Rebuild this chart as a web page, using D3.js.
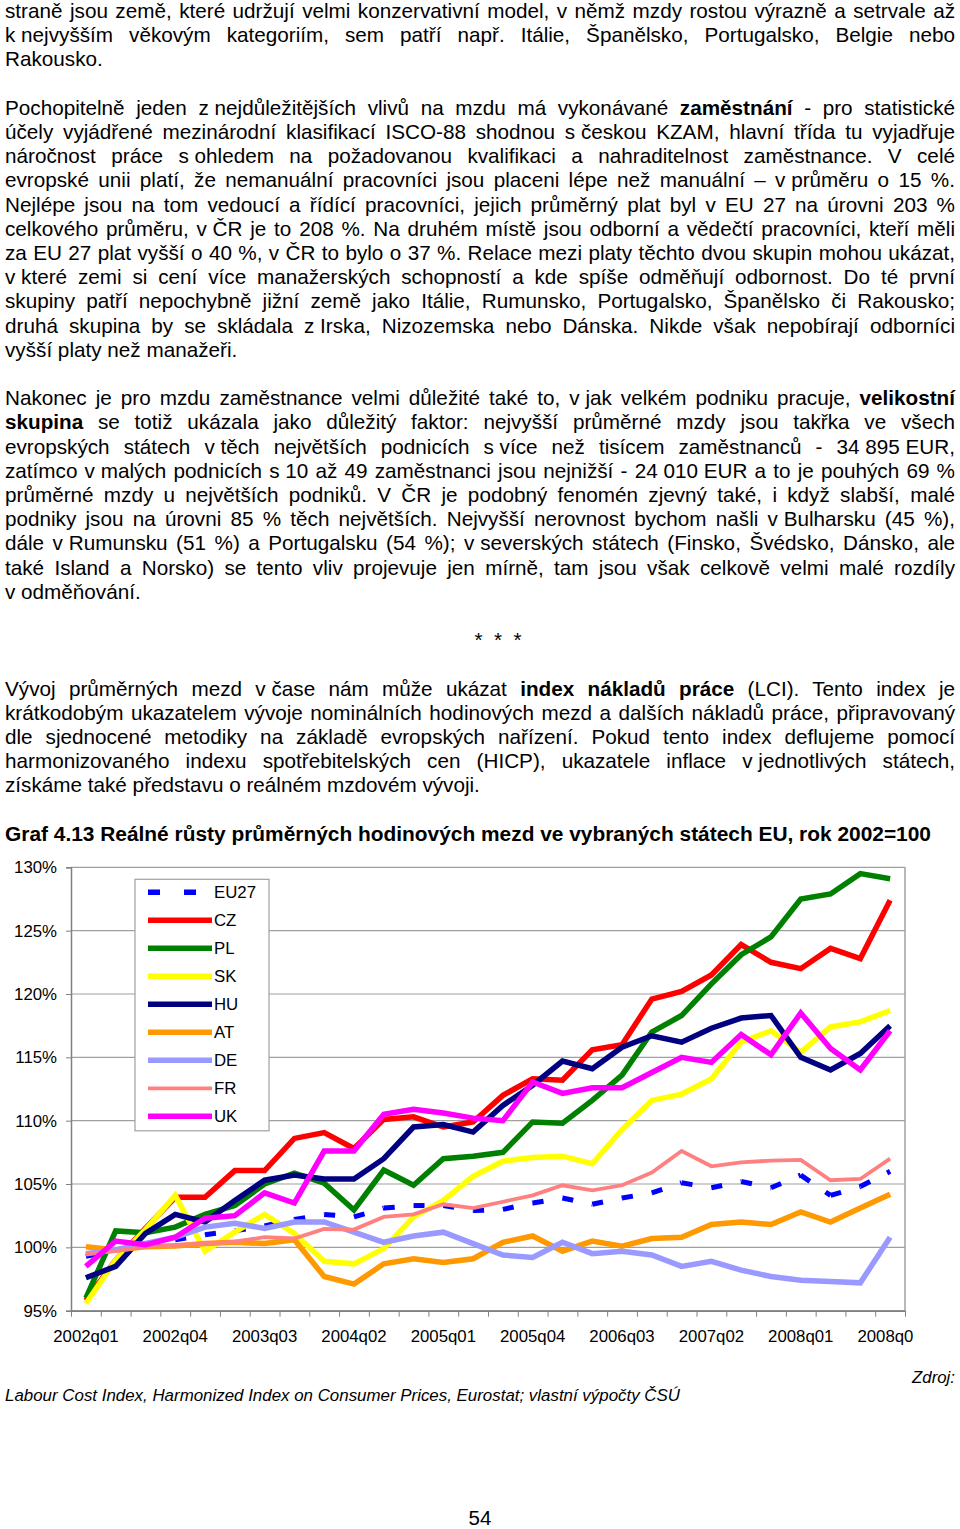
<!DOCTYPE html>
<html>
<head>
<meta charset="utf-8">
<script src="https://cdn.jsdelivr.net/npm/d3@7"></script>
<style>
	body { margin: 0; background: #fff; width: 960px; height: 1529px; position: relative; overflow: hidden;
		font-family: "Liberation Sans", Arial, sans-serif; color: #000; }
	.ln { position: absolute; left: 5px; white-space: pre; font-size: 20.7px; line-height: 24.2px; }
	svg { position: absolute; left: 0; top: 0; }
</style>
</head>
<body>
<script>

// text of the page, one entry per printed line ("**" toggles bold, "~" is a fixed space)
const PARA_1 = [
	'straně jsou země, které udržují velmi konzervativní model, v němž mzdy rostou výrazně a setrvale až',
	'k~nejvyšším věkovým kategoriím, sem patří např. Itálie, Španělsko, Portugalsko, Belgie nebo',
	'Rakousko.'
];
const PARA_2 = [
	'Pochopitelně jeden z~nejdůležitějších vlivů na mzdu má vykonávané **zaměstnání** - pro statistické',
	'účely vyjádřené mezinárodní klasifikací ISCO-88 shodnou s~českou KZAM, hlavní třída tu vyjadřuje',
	'náročnost práce s~ohledem na požadovanou kvalifikaci a nahraditelnost zaměstnance. V celé',
	'evropské unii platí, že nemanuální pracovníci jsou placeni lépe než manuální – v~průměru o 15 %.',
	'Nejlépe jsou na tom vedoucí a řídící pracovníci, jejich průměrný plat byl v EU 27 na úrovni 203 %',
	'celkového průměru, v~ČR je to 208 %. Na druhém místě jsou odborní a vědečtí pracovníci, kteří měli',
	'za EU 27 plat vyšší o 40 %, v ČR to bylo o 37 %. Relace mezi platy těchto dvou skupin mohou ukázat,',
	'v~které zemi si cení více manažerských schopností a kde spíše odměňují odbornost. Do té první',
	'skupiny patří nepochybně jižní země jako Itálie, Rumunsko, Portugalsko, Španělsko či Rakousko;',
	'druhá skupina by se skládala z~Irska, Nizozemska nebo Dánska. Nikde však nepobírají odborníci',
	'vyšší platy než manažeři.'
];
const PARA_3 = [
	'Nakonec je pro mzdu zaměstnance velmi důležité také to, v~jak velkém podniku pracuje, **velikostní**',
	'**skupina** se totiž ukázala jako důležitý faktor: nejvyšší průměrné mzdy jsou takřka ve všech',
	'evropských státech v~těch největších podnicích s~více než tisícem zaměstnanců - 34~895~EUR,',
	'zatímco v~malých podnicích s~10 až 49 zaměstnanci jsou nejnižší - 24~010~EUR a to je pouhých 69 %',
	'průměrné mzdy u největších podniků. V ČR je podobný fenomén zjevný také, i když slabší, malé',
	'podniky jsou na úrovni 85 % těch největších. Nejvyšší nerovnost bychom našli v~Bulharsku (45 %),',
	'dále v~Rumunsku (51 %) a Portugalsku (54 %); v~severských státech (Finsko, Švédsko, Dánsko, ale',
	'také Island a Norsko) se tento vliv projevuje jen mírně, tam jsou však celkově velmi malé rozdíly',
	'v~odměňování.'
];
const PARA_4 = [
	'Vývoj průměrných mezd v~čase nám může ukázat **index nákladů práce** (LCI). Tento index je',
	'krátkodobým ukazatelem vývoje nominálních hodinových mezd a dalších nákladů práce, připravovaný',
	'dle sjednocené metodiky na základě evropských nařízení. Pokud tento index deflujeme pomocí',
	'harmonizovaného indexu spotřebitelských cen (HICP), ukazatele inflace v~jednotlivých státech,',
	'získáme také představu o reálném mzdovém vývoji.'
];
const PARAGRAPHS = [[0, PARA_1], [4, PARA_2], [16, PARA_3], [28, PARA_4]];

const CHART_TITLE = 'Graf 4.13 Reálné růsty průměrných hodinových mezd ve vybraných státech EU, rok 2002=100';
const SOURCE_LABEL = 'Zdroj:';
const SOURCE_TEXT = 'Labour Cost Index, Harmonized Index on Consumer Prices, Eurostat; vlastní výpočty ČSÚ';
const PAGE_NUMBER = '54';

// chart data
const QUARTERS = [
	'2002q01', '2002q02', '2002q03', '2002q04', '2003q01', '2003q02', '2003q03', '2003q04',
	'2004q01', '2004q02', '2004q03', '2004q04', '2005q01', '2005q02', '2005q03', '2005q04',
	'2006q01', '2006q02', '2006q03', '2006q04', '2007q01', '2007q02', '2007q03', '2007q04',
	'2008q01', '2008q02', '2008q03', '2008q04'
];
const TICK_LABELS = ['2002q01', '2002q04', '2003q03', '2004q02', '2005q01', '2005q04', '2006q03', '2007q02', '2008q01', '2008q04'];
const Y_TICKS = [95, 100, 105, 110, 115, 120, 125, 130];

const EU27 = [99.3, 99.8, 100.2, 100.6, 101.0, 101.3, 101.7, 102.2, 102.6, 102.4, 103.1, 103.3, 103.3, 102.9, 103.0, 103.5, 103.9, 103.4, 103.9, 104.3, 105.1, 104.7, 105.2, 104.7, 105.7, 104.1, 104.8, 106.0];
const CZ = [95.8, 99.0, 101.5, 103.95, 103.95, 106.06, 106.06, 108.6, 109.06, 107.8, 110.1, 110.3, 109.5, 109.9, 112.0, 113.3, 113.2, 115.6, 116.0, 119.6, 120.2, 121.5, 123.9, 122.5, 122.0, 123.6, 122.8, 127.4];
const PL = [96.0, 101.3, 101.16, 101.6, 102.6, 103.3, 105.0, 105.85, 105.06, 102.95, 106.1, 104.9, 107.0, 107.2, 107.5, 109.9, 109.8, 111.6, 113.6, 117.0, 118.3, 120.8, 123.1, 124.5, 127.5, 127.9, 129.5, 129.1];
const SK = [95.57, 99.0, 101.4, 104.1, 99.7, 101.2, 102.6, 101.1, 98.9, 98.7, 99.9, 102.4, 103.7, 105.6, 106.8, 107.1, 107.2, 106.6, 109.3, 111.6, 112.1, 113.3, 116.2, 117.1, 115.4, 117.4, 117.8, 118.7];
const HU = [97.6, 98.5, 101.1, 102.6, 102.0, 103.7, 105.3, 105.7, 105.4, 105.4, 107.0, 109.5, 109.7, 109.1, 111.2, 112.8, 114.7, 114.1, 115.8, 116.7, 116.2, 117.3, 118.1, 118.3, 115.0, 114.0, 115.3, 117.5];
const AT = [100.05, 99.8, 100.05, 100.1, 100.3, 100.4, 100.3, 100.6, 97.7, 97.1, 98.7, 99.1, 98.8, 99.1, 100.4, 100.9, 99.7, 100.5, 100.1, 100.7, 100.8, 101.8, 102.0, 101.8, 102.8, 102.0, 103.1, 104.2];
const DE = [99.5, 99.8, 100.3, 100.8, 101.6, 101.9, 101.5, 102.0, 102.0, 101.2, 100.4, 100.9, 101.2, 100.3, 99.4, 99.2, 100.4, 99.5, 99.7, 99.4, 98.5, 98.9, 98.2, 97.7, 97.4, 97.3, 97.2, 100.8];
const FR = [99.5, 99.7, 100.05, 100.2, 100.3, 100.45, 100.8, 100.7, 101.45, 101.4, 102.4, 102.6, 103.4, 103.1, 103.6, 104.1, 104.9, 104.5, 104.9, 105.9, 107.6, 106.4, 106.7, 106.85, 106.9, 105.3, 105.4, 107.0];
const UK = [98.5, 100.5, 100.2, 100.8, 102.3, 102.5, 104.3, 103.5, 107.6, 107.6, 110.5, 110.9, 110.6, 110.2, 110.0, 113.05, 112.15, 112.6, 112.6, 113.8, 115.0, 114.6, 116.8, 115.2, 118.5, 115.7, 114.0, 117.1];

const SERIES_NAMES = ['EU27', 'CZ', 'PL', 'SK', 'HU', 'AT', 'DE', 'FR', 'UK'];
const SERIES_VALUES = [EU27, CZ, PL, SK, HU, AT, DE, FR, UK];
const SERIES_COLORS = ['#0000ff', '#ff0000', '#008000', '#ffff00', '#000080', '#ff9900', '#9999ff', '#ff8080', '#ff00ff'];


const LINE_H = 24.2;
const TEXT_W = 950;
const FONT = '"Liberation Sans", Arial, sans-serif';

function addLine(row, text, justify, size) {
	const span = d3.select('body').append('div')
		.attr('class', 'ln')
		.style('top', (row * LINE_H - 1) + 'px')
		.style('font-size', size ? size + 'px' : null)
		.append('span');

	text.split('**').forEach((part, k) => {
		const bold = span.append('span').style('font-weight', k % 2 ? 'bold' : 'normal');
		part.split('~').forEach((piece, j) => {
			if (j > 0) bold.append('span').style('word-spacing', '0px').text('\u00a0');
			bold.append('span').text(piece);
		});
	});

	if (justify) {
		const w = span.node().getBoundingClientRect().width;
		const spaces = (text.match(/ /g) || []).length;
		if (spaces) span.style('word-spacing', ((TEXT_W - w) / spaces) + 'px');
	}
}

PARAGRAPHS.forEach(([row0, lines]) => {
	lines.forEach((t, i) => addLine(row0 + i, t, i < lines.length - 1));
});

// the three stars between sections
d3.select('body').append('div')
	.attr('class', 'ln')
	.style('left', '0px').style('width', '996px').style('text-align', 'center')
	.style('top', (26 * LINE_H - 1) + 'px')
	.text('*  *  *');

addLine(34, '**' + CHART_TITLE + '**', false, 20.9);


// ---- chart ----
const svg = d3.select('body').append('svg')
	.attr('width', 960)
	.attr('height', 1529);

const plotLeft = 71, plotRight = 905, plotTop = 867.3, plotBottom = 1310.7;

const x = d3.scaleBand().domain(QUARTERS).range([plotLeft, plotRight]);
const xEdge = d3.scaleLinear().domain([0, QUARTERS.length]).range([plotLeft, plotRight]);
const y = d3.scaleLinear().domain([95, 130]).range([plotBottom, plotTop]);

// gridlines
svg.append('g')
	.selectAll('line')
	.data(Y_TICKS)
	.enter()
	.append('line')
		.attr('x1', plotLeft).attr('x2', plotRight)
		.attr('y1', d => y(d)).attr('y2', d => y(d))
		.attr('stroke', '#a0a0a0')
		.attr('stroke-width', 1.2);

// right border
svg.append('line')
	.attr('x1', plotRight).attr('x2', plotRight)
	.attr('y1', plotTop).attr('y2', plotBottom)
	.attr('stroke', '#a0a0a0')
	.attr('stroke-width', 1.5);

// y axis
const yAxis = svg.append('g')
	.attr('transform', `translate(${plotLeft},0)`)
	.call(d3.axisLeft(y).tickValues(Y_TICKS).tickFormat(d => d + '%').tickSize(5).tickPadding(9));
yAxis.select('.domain').attr('stroke', '#808080').attr('stroke-width', 1.5);
yAxis.selectAll('.tick line').attr('stroke', '#808080');
yAxis.selectAll('text')
	.style('font-family', FONT)
	.style('font-size', '16.8px')
	.attr('fill', '#000');

// x axis: ticks on category edges
const xTicks = svg.append('g')
	.attr('transform', `translate(0,${plotBottom})`)
	.call(d3.axisBottom(xEdge).tickValues(d3.range(QUARTERS.length + 1)).tickFormat('').tickSize(6).tickSizeOuter(0));
xTicks.select('.domain').attr('stroke', '#808080').attr('stroke-width', 1.5);
xTicks.selectAll('.tick line').attr('stroke', '#808080');

// the last label is cut at the chart edge, as in the original
svg.append('clipPath').attr('id', 'label-clip')
	.append('rect').attr('x', 0).attr('y', plotBottom).attr('width', 913).attr('height', 60);

const xLabelAxis = svg.append('g')
	.attr('clip-path', 'url(#label-clip)')
	.append('g')
	.attr('transform', `translate(0,${plotBottom})`)
	.call(d3.axisBottom(x).tickValues(TICK_LABELS).tickSize(0).tickPadding(19));
xLabelAxis.select('.domain').remove();
xLabelAxis.selectAll('text')
	.style('font-family', FONT)
	.style('font-size', '16.8px')
	.attr('fill', '#000');

// series
const line = d3.line()
	.x((d, i) => x(QUARTERS[i]) + x.bandwidth() / 2)
	.y(d => y(d));

SERIES_VALUES.forEach((values, k) => {
	if (SERIES_NAMES[k] === 'EU27') {
		// dash pattern restarts on every segment
		svg.append('g')
			.selectAll('path')
			.data(d3.pairs(values.map((v, i) => [i, v])))
			.enter()
			.append('path')
				.attr('d', ([a, b]) => `M${x(QUARTERS[a[0]]) + x.bandwidth() / 2},${y(a[1])}L${x(QUARTERS[b[0]]) + x.bandwidth() / 2},${y(b[1])}`)
				.attr('fill', 'none')
				.attr('stroke', SERIES_COLORS[k])
				.attr('stroke-width', 5)
				.attr('stroke-dasharray', '11,19');
	} else {
		svg.append('path')
			.datum(values)
			.attr('d', line)
			.attr('fill', 'none')
			.attr('stroke', SERIES_COLORS[k])
			.attr('stroke-width', SERIES_NAMES[k] === 'FR' ? 3.8 : 5.5)
			.attr('stroke-linejoin', 'miter');
	}
});

// legend
const legend = svg.append('g');
legend.append('rect')
	.attr('x', 135).attr('y', 879.3)
	.attr('width', 134).attr('height', 251.5)
	.attr('fill', '#fff')
	.attr('stroke', '#a0a0a0')
	.attr('stroke-width', 1.2);

const rows = legend.selectAll('g.item')
	.data(SERIES_NAMES)
	.enter()
	.append('g')
		.classed('item', true)
		.attr('transform', (d, i) => `translate(0,${892.3 + i * 28})`);

rows.append('line')
	.attr('x1', 148).attr('x2', 212)
	.attr('stroke', (d, i) => SERIES_COLORS[i])
	.attr('stroke-width', d => d === 'FR' ? 3.8 : 5.5)
	.attr('stroke-dasharray', d => d === 'EU27' ? '12,24' : null);

rows.append('text')
	.text(d => d)
	.attr('x', 214)
	.attr('dy', '0.36em')
	.style('font-family', FONT)
	.style('font-size', '16.8px');

// source and page number
svg.append('text')
	.text(SOURCE_LABEL)
	.attr('x', 955).attr('y', 1383)
	.attr('text-anchor', 'end')
	.style('font-family', FONT)
	.style('font-style', 'italic')
	.style('font-size', '16.8px');

svg.append('text')
	.text(SOURCE_TEXT)
	.attr('x', 5).attr('y', 1401)
	.style('font-family', FONT)
	.style('font-style', 'italic')
	.style('font-size', '16.9px');

svg.append('text')
	.text(PAGE_NUMBER)
	.attr('x', 480).attr('y', 1525)
	.attr('text-anchor', 'middle')
	.style('font-family', FONT)
	.style('font-size', '20.5px');

</script>
</body>
</html>
